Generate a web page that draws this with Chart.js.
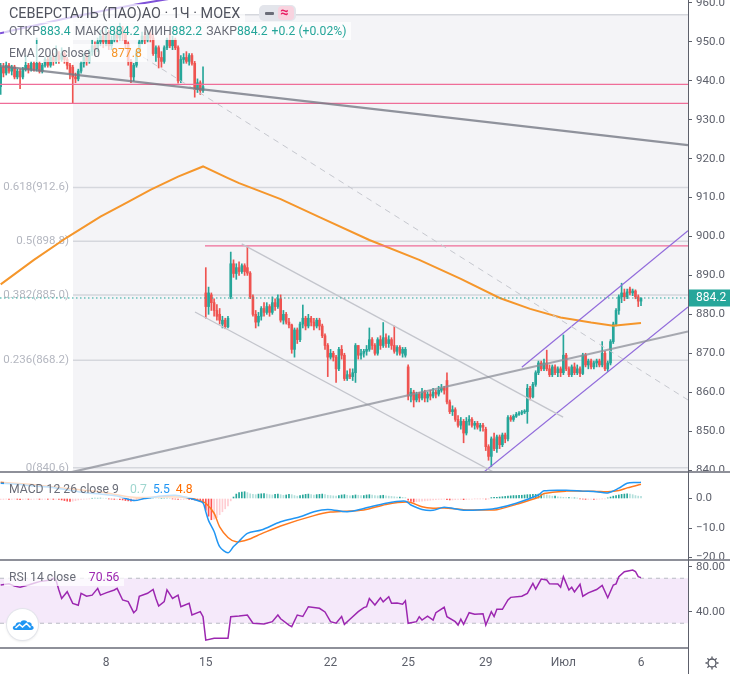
<!DOCTYPE html>
<html lang="ru">
<head>
<meta charset="utf-8">
<title>СЕВЕРСТАЛЬ (ПАО)АО · 1Ч · MOEX</title>
<script src="https://cdn.jsdelivr.net/npm/chart.js@4.4.1/dist/chart.umd.min.js"></script>
<style>
html,body{margin:0;padding:0;background:#fff;}
#wrap{position:relative;width:730px;height:674px;overflow:hidden;font-family:Roboto,"Noto Sans","DejaVu Sans",sans-serif;}
canvas{position:absolute;left:0;}
#cMain{top:0;} #cMacd{top:472px;} #cRsi{top:560px;}
.sep{position:absolute;background:#8e9099;}
.leg{position:absolute;white-space:nowrap;font-size:12.2px;color:#6a6d78;background:rgba(255,255,255,0.72);padding:0 5px;line-height:18px;}
.leg .v{color:#26a69a;}
.leg .g{margin-left:4px;}
</style>
</head>
<body>
<div id="wrap">
<canvas id="cMain" width="730" height="472"></canvas>
<canvas id="cMacd" width="730" height="88"></canvas>
<canvas id="cRsi" width="730" height="114"></canvas>

<div class="sep" style="left:0;top:471px;width:730px;height:2px"></div>
<div class="sep" style="left:0;top:559px;width:730px;height:2px"></div>
<div class="sep" style="left:0;top:647px;width:688px;height:2px"></div>
<div class="sep" style="left:687.5px;top:0;width:1.5px;height:674px;background:#5d606b"></div>

<div class="leg" style="left:4px;top:4px;font-size:14.4px;color:#50535e;line-height:19px;">СЕВЕРСТАЛЬ (ПАО)АО · 1Ч · MOEX</div>
<div style="position:absolute;left:259px;top:5px;width:37px;height:16px;border-radius:5px;background:#e3e5eb;">
  <div style="position:absolute;left:6px;top:6.5px;width:9px;height:3px;background:#6a6d78;border-radius:1px"></div>
  <div style="position:absolute;left:19px;top:1px;width:16px;height:14px;border-radius:4px;background:#f8d3df;"></div>
  <span style="position:absolute;left:21px;top:-2px;color:#e91e63;font-size:15px;font-weight:bold;line-height:18px">≈</span>
</div>
<div class="leg" style="left:4px;top:22px;">ОТКР<span class="v">883.4</span><span class="g">МАКС</span><span class="v">884.2</span><span class="g">МИН</span><span class="v">882.2</span><span class="g">ЗАКР</span><span class="v">884.2</span><span class="g v">+0.2 (+0.02%)</span></div>
<div class="leg" style="left:4px;top:44px;">EMA 200 close 0<span style="margin-left:11px;color:#f5962b">877.8</span></div>

<div class="leg" style="left:4px;top:480px;">MACD 12 26 close 9<span style="margin-left:11px;color:#9fd6cf">0.7</span><span style="margin-left:6px;color:#2196f3">5.5</span><span style="margin-left:6px;color:#ff6d00">4.8</span></div>
<div class="leg" style="left:4px;top:568px;">RSI 14 close<span style="margin-left:13px;color:#9c27b0">70.56</span></div>

<div style="position:absolute;left:7px;top:609px;width:31px;height:31px;border-radius:50%;background:#fff;box-shadow:0 0 0 1px #e3e5eb,0 1px 3px rgba(0,0,0,0.15);">
<svg width="31" height="31" viewBox="0 0 31 31"><path d="M8 21 C5 21 5 16.5 8.5 16.5 C8.5 13.5 11.5 12.5 13.5 13.5 C14.5 10.5 19.5 10.5 20.5 13.5 C23 12.5 25.5 14.5 24.5 16.8 C27.5 17 27.5 21 24 21 Z" fill="#2196f3"/><path d="M8.5 19 L12.5 15.5 L15.5 18 L19.5 14.5 L23.5 18.5" stroke="#fff" stroke-width="1.6" fill="none"/></svg>
</div>
<svg style="position:absolute;left:704px;top:655px" width="16" height="16" viewBox="0 0 16 16">
<g stroke="#50535e" stroke-width="1.3" fill="none"><circle cx="8" cy="8" r="4"/><path d="M8 1.5V3.5M8 12.5V14.5M1.5 8H3.5M12.5 8H14.5M3.4 3.4L4.8 4.8M11.2 11.2L12.6 12.6M3.4 12.6L4.8 11.2M11.2 4.8L12.6 3.4"/></g></svg>
</div>

<script>
// ---------------- data ----------------
const opens = [
938.5,943.5,942,944,942.5,943.5,941,942.5,941,943,
944,943,944.5,943,944.5,942.5,944,945.5,944,946,
945,946.5,945.5,947,945.5,944,943.5,941,940.5,942.5,
944.5,946,945,947.5,949,948,950,951.5,950,952,
949,950.5,952,951,953,952,949.5,945,941,944,
947.5,950,951.5,950.5,952,951,947,948.5,946,945,
948.5,950.5,949,950.5,948.5,940,945.5,946,945,946.5,
944.5,937.8,939.5,937.5,885.5,882,885,883,881,880,
877.5,878.5,876.8,884.5,893,890.5,892,891,892.5,892,
890.6,884.5,880,878,879.5,881.5,880.5,882,880.5,883,
882,884,878.5,880,878,877.3,871,876,873.5,877.5,
879,877,879,878,877,878.5,877,874.5,872,869,
870,869,866,871,869.5,863.5,864.5,864,865,872,
869.5,870,870.5,871,873.5,872,870,873.5,872,874,
872.5,873.5,872,870.5,871.5,870,869.5,866.5,859,860,
858,859.5,858.5,860,858.5,859.5,859,860,859.5,860.5,
861,863,857.5,855,855.5,853,851.5,852.5,849.5,852.5,
853,851.5,852,851,851.5,850.5,846,843.5,848,845.5,
848.5,846.5,849,848,853.5,853,853.8,854.3,854.6,854.9,
855,861,858.8,862,865,867.5,866,867.5,866,864.5,
866.5,865,866,865,869.5,866,864.5,866.5,865,866,
864.8,869.5,867,868,866.5,867.5,868,867,870,866,
867.5,873,877.5,881,884.5,885.5,884.5,886.5,885.5,886,
884.5,883.4];
const highs = [
944.5,944.5,945,944.5,944,944,943,943,943.5,946.5,
944.5,945,945,951,945,944.5,946,946,946.5,947,
949,947.5,948.5,947.5,946,944.5,944,942,943,945,
947,947,948,950.5,950,951,953,952.5,954,953,
951.5,953.5,954,955,954,952.5,950,945.5,944.5,948,
950.5,952.5,952.5,953,953,952,949,949,947.5,949,
951,952,951.5,951,949,946.5,947,947.5,947,947,
945,940.5,940,943.6,892,887,885.5,884,882.5,881.5,
879.5,879,879.5,896,894,893,893.5,893,893,897.4,
891,885,881,880.5,882,883,883,882.5,884.5,884,
885,885,881,880.5,879,877.5,876.5,876.5,878,882.4,
879.5,880,879.5,879,879,879,877.5,875,872.5,871,
870.5,869.5,871.5,872,870,865.5,866,866,872.5,872,
871,871,872,876.5,874,872.5,874,874.5,877.9,875,
874.5,874,877,872,872,871.5,871.5,867,861,860.5,
860,860,861,860.5,860,860.5,861,860.5,861.5,862,
861.5,865,858,856.5,856,854,853.5,853,853.5,854,
853.5,852.5,852.5,852,852,851,846.5,848.5,849.5,849,
849,849.5,849.5,854,854,854.2,854.8,855,855.3,855.5,
862,861.5,862.5,865.5,868,868,868.5,870.8,867,867,
867,866.5,866.5,874.7,870,866.5,867,867.5,867,866.5,
870,870,868.5,868.5,868,868.5,868.5,873,870.5,868,
873.5,878,881.5,885,888,886.5,886.5,887,886.5,886.3,
885,884.2];
const lows = [
936.5,941,941.5,942,941.5,940.5,940.5,938,940.5,942.5,
942,942.5,942.5,942.5,942,942,943.5,943.5,943.5,944,
944.5,944.5,945,944.5,943,940.5,934.2,939.5,940,942,
943.5,944,944.5,946.5,946.5,947.5,949,948.5,949,948,
948,950,950,950.5,950.5,948.5,944,939.5,940,943.5,
947,949.5,949.5,950,950,946.5,945,943.3,943.5,944.5,
948,948.5,948,948,939.4,939.5,944.5,944.5,944,944,
935.8,937,936.5,937,879,880,881,879.5,878.5,877.5,
876.5,876.3,876.5,884,889.5,889,890,890.5,890,890,
884,879.5,876.5,877,878.5,879.5,880,879.5,880,881,
881.5,878,877.5,877.5,876.5,870,869,872.5,873,876.5,
876,876.5,877,876,876.5,876,874,871,864,868.5,
868,862.5,865.5,868.5,863,863,863.5,863,862.5,868.5,
868.5,869,869.5,870.5,871,869.5,869.5,871,871.5,871.5,
871.5,871,870,869.5,869.5,869,869,858,857.5,856.2,
857.5,857.5,858,857.5,857.5,858,858.5,858.5,859,860,
859.5,857,854.5,854,852.5,851,850.5,847,849,851.5,
851,850.5,850.5,850,850,845,842.5,840.9,845,844.5,
845.5,846,847,847.5,852.5,852.5,853.5,854,854.2,854.5,
852,858,858.5,861.5,864.5,865.5,865.5,865.5,864,864,
864.5,864,864,864.5,865.5,864,864,864.5,864.5,864,
864.5,866.5,866,866,866,866.5,866.5,866.5,865.5,865.3,
867,872.5,877,880,883,883.5,884,885,884.8,884,
882,882.2];
const closes = [
943.5,942,944,942.5,943.5,941,942.5,941,943,944,
943,944.5,943,944.5,942.5,944,945.5,944,946,945,
946.5,945.5,947,945.5,944,942,941,940.5,942.5,944.5,
946,945,947.5,949,948,950,951.5,950,952,949,
950.5,952,951,953,952,949.5,945,941,944,947.5,
950,951.5,950.5,952,951,947,948.5,946,945,948.5,
950.5,949,950.5,948.5,940,945.5,946,945,946.5,944.5,
937.8,939.5,937.5,938.5,882,885.5,883,881,879.5,878.5,
878.5,876.8,879,893,890.5,892,891,892.5,891,890.6,
884.5,880,878,879.5,881.5,880.5,882,880.5,883,882,
884,878.5,880,878,877.3,871,876,873.5,877.5,879,
877,879,878,877,878.5,877,874.5,872,869,870,
869,866,871,869.5,863.5,864.5,864,865,872,869.5,
870,870.5,871,873.5,872,870,873.5,872,874,872.5,
873.5,872,870.5,871.5,870,871,871,859,860,858,
859.5,858.5,860,858.5,859.5,859,860,859.5,860.5,861,
860.5,857.5,855,855.5,853,851.5,852.5,849.5,852.5,853,
851.5,852,851,851.5,851,846,843.5,848,845.5,848.5,
846.5,849,848,853.5,853,853.8,854.3,854.6,854.9,855,
861,858.8,862,865,867.5,866,867.5,866,864.5,866.5,
865,866,865,869.5,866,864.5,866.5,865,866,864.8,
869.5,867,868,866.5,867.5,868,867,870,866,867.5,
873,877.5,881,884.5,885.5,884.5,885.8,885.5,886,884.5,
883.4,884.2];

const lastPrice = 884.2;
const emaBars   = [0,12,24,36,45,54,64,73,82,86,101,115,133,151,166,180,191,202,213,221,231];
const emaValues = [887.7,894.0,899.8,905.1,908.5,912.0,915.4,918.0,915.0,913.7,909.6,905.0,899.1,894.0,889.1,884.2,881.4,879.2,877.9,877.1,877.8];

// drawings: [bar1, price1, bar2, price2]
const trendLines = [
  [-0.24, 943.8, 247.95, 923.5],
  [19.6, 838.5, 247.95, 875.6],
  [86.95, 898.1, 202.9, 853.6],
  [70.1, 880.6, 179.05, 839.0],
  [51.35, 946.1, 247.95, 858.0],
  [174.0, 839.3, 247.95, 881.9],
  [188.0, 866.4, 247.95, 901.5]
];
const levelStartBars = [-0.24, -0.24, 73.7];
const levelPrices    = [939.1, 934.2, 897.6];
const arcBars   = [-0.24, 23.8, 47.85, 64.7];
const arcPrices = [952.2, 956.1, 959.5, 961.5];

const fibStartBar = 26.1;
const fibLevels = ['1','0.618','0.5','0.382','0.236','0'];
const fibPrices = [957.0, 912.6, 898.8, 885.0, 868.2, 840.6];

const histValues = [
-0.3,-0.3,-0.2,-0.3,-0.3,-0.2,-0.3,-0.4,-0.3,-0.2,
-0.3,-0.3,-0.2,-0.2,-0.3,-0.3,-0.2,-0.3,-0.2,-0.3,
-0.2,-0.3,-0.5,-0.7,-0.9,-1.0,-0.9,-0.7,-0.5,-0.3,
-0.2,-0.2,-0.1,0.1,0.2,0.2,0.3,0.2,0.1,-0.1,
-0.2,-0.3,-0.3,-0.4,-0.5,-0.7,-0.8,-0.9,-0.8,-0.6,
-0.4,-0.2,0.1,0.2,0.3,0.3,0.2,0.1,0.1,0.2,
0.2,0.1,-0.1,-0.2,-0.3,-0.3,-0.3,-0.2,-0.3,-0.4,
-0.5,-0.6,-0.8,-1.5,-4,-6,-7.2,-7,-6.5,-5.5,
-4.5,-3.5,-2.5,-0.8,0.5,1.5,2,2.2,2.3,2,
1.6,1.4,1.3,1.5,1.6,1.7,1.5,1.3,1.2,1.4,
1.5,1.3,1.1,1.2,1.4,1.3,1.0,0.8,1.0,1.2,
1.4,1.5,1.3,1.2,1.3,1.4,1.5,1.3,1.1,1.0,
0.9,0.8,1.0,1.2,1.3,1.1,0.9,1.0,1.2,1.1,
1.0,1.0,1.2,1.3,1.2,1.0,0.9,1.0,1.1,0.9,
0.8,0.7,0.6,0.5,0.5,0.4,0.3,-0.6,-1.0,-1.2,
-1.1,-1.0,-0.9,-0.8,-0.7,-0.6,-0.5,-0.4,-0.3,-0.3,
-0.2,-0.4,-0.5,-0.5,-0.4,-0.3,-0.3,-0.4,-0.3,-0.2,
-0.2,-0.1,-0.1,-0.1,-0.1,-0.2,-0.1,0.3,0.4,0.4,
0.5,0.6,0.7,0.8,0.9,1.0,1.0,1.1,1.1,1.2,
1.3,1.3,1.4,1.4,1.5,1.5,1.4,1.2,1.0,0.8,
0.8,0.6,0.5,0.4,0.3,0.3,0.2,0.2,0.1,-0.1,
-0.2,-0.3,-0.3,-0.2,-0.3,-0.3,-0.2,-0.1,-0.1,0.2,
0.5,0.8,1.0,1.2,1.4,1.5,1.6,1.5,1.3,1.0,
0.8,0.7];
const macdBars   = [0,6,12,18,24,30,36,42,48,52,58,63,67,71,73,74,75,77,79,82,84,86,89,94,101,108,113,118,125,131,139,146,148,152,156,160,167,175,179,186,194,196,204,210,215,219,223,226,230,231];
const macdValues = [5.15,4.8,4.2,3.8,2.9,2.0,1.5,0.85,-0.7,0,0.85,1.1,0.4,-0.7,-1.5,-4.5,-7.5,-11.2,-16.3,-18.4,-16.3,-14.5,-11.8,-10.7,-7.9,-6.2,-4.5,-3.7,-4.5,-3.4,-1.6,-0.9,-2.2,-3.7,-4,-3,-4,-3.7,-3.3,-1.6,1.2,2.6,2.8,2.5,2.3,1.9,3.5,5.2,5.4,5.5];
const signalBars   = [0,12,24,36,48,54,60,67,72,74,77,79,82,85,89,94,101,113,119,131,139,147,152,156,160,167,175,179,186,194,196,204,210,215,219,223,226,230,231];
const signalValues = [5.5,4.7,3.4,2.2,0.4,0.4,0.6,0.3,-0.8,-1.6,-5,-9.6,-13.2,-14.7,-14,-12,-9.3,-5.8,-4.6,-3.9,-2,-1.2,-2.8,-3.3,-3.2,-3.8,-3.9,-3.8,-2,0.4,1.7,2.5,2.5,2.4,2.3,2.7,3.6,4.6,4.8];

const rsiBars = [0,3,5,7,10,12,14,18,19,20,21,22,24,26,28,29,31,33,35,36,38,41,42,44,46,48,49,50,53,55,56,57,59,60,62,64,65,68,69,72,73,74,77,82,83,86,89,91,95,98,100,101,104,105,107,109,111,115,117,119,121,123,124,126,129,131,132,133,135,137,138,140,141,143,145,146,147,150,151,152,154,156,157,160,161,164,165,166,167,169,171,174,175,177,178,179,181,183,184,188,190,192,193,195,197,198,201,202,203,205,206,207,209,210,212,215,217,219,221,222,223,225,228,229,230,231];
const rsiValues = [64,65,63,62,64,65.5,67,68.4,70,68,59.6,52,58,47.7,46,56.6,54,55,61,55,57,59.6,61,50.7,49.2,39.4,41.8,54,56.6,60,52,45.3,49.2,59.6,52,55,44.7,47.7,37.3,40.3,35.8,15,16.6,16.6,35.8,36.4,37.3,30,29.3,31.4,37.3,34,28.4,27,37.3,36,44.7,43.3,40,31.4,30,36,29,33.6,40.3,43.9,44.7,52,46.2,52.7,49,53.6,47.7,48,47,50,30,31.4,35.8,32.9,36.4,32.9,39.4,44.2,35.8,31.4,28.4,33.6,29,39.4,38,38.5,28.4,40.3,36,42.4,42.4,50.7,53,54,56.6,65.5,60.4,69.3,68.4,65,64.9,62,71.4,59.6,62,57.8,64.6,54,57,60,63.7,52.7,64,65,71.4,75.8,77.3,76,71.4,70.56];
const rsiUpper = 70, rsiLower = 30;

const priceTicks = [840,850,860,870,880,890,900,910,920,930,940,950,960];
const macdTicks = [0,-10,-20];
const rsiTicks = [80,40];
const dayTicks  = [38,74,119,147,175,203,231];
const dayLabels = ['8','15','22','25','29','Июл','6'];

// ---------------- view ----------------
const X_MIN = -0.2417, X_MAX = 247.954;
const UP = '#26a69a', DOWN = '#ef5350';
const AXIS_TEXT = '#5d606b';
Chart.defaults.font.family = 'Roboto, "Noto Sans", "DejaVu Sans", sans-serif';

function xScale(){
  return {type:'linear', min:X_MIN, max:X_MAX, offset:false, display:false};
}
function yScale(min, max, ticks, fmt){
  return {
    position:'right', min, max, beginAtZero:false,
    afterBuildTicks: s => { s.ticks = ticks.map(v => ({value:v})); },
    afterFit: s => { s.width = 42; s.paddingTop = 0; s.paddingBottom = 0; },
    ticks:{callback: fmt, color:AXIS_TEXT, font:{size:11.5}, padding:4, autoSkip:false},
    grid:{display:true, drawOnChartArea:false, drawTicks:true, tickLength:4, tickColor:AXIS_TEXT, tickWidth:1},
    border:{display:false}
  };
}
const baseOpts = {responsive:false, animation:false, events:[], layout:{padding:0},
  plugins:{legend:{display:false}, tooltip:{enabled:false}}};

const candleColor = ctx => {
  const i = ctx.dataIndex;
  if (i === undefined) return UP;
  return closes[i] >= opens[i] ? UP : DOWN;
};
const pts = (xs, ys) => xs.map((x, k) => ({x, y: ys[k]}));
const lineDs = (data, color, width, dash, order, tension) => ({
  type:'line', data, borderColor:color, borderWidth:width, borderDash:dash || [],
  pointRadius:0, fill:false, tension:tension || 0, order
});

const trendStyles = [
  ['rgba(118,121,132,0.8)', 2.2, []],
  ['rgba(140,143,152,0.75)', 2.2, []],
  ['#c3c5cc', 1.3, []],
  ['#c3c5cc', 1.3, []],
  ['#c6c8cf', 1, [6,5]],
  ['#916bdb', 1.2, []],
  ['#916bdb', 1.2, []]
];

const mainDatasets = [
  {type:'bar', data: closes.map((c,i) => ({x:i, y:[lows[i], highs[i]]})),
   backgroundColor: candleColor, barThickness:1, grouped:false, order:20},
  {type:'bar', data: closes.map((c,i) => ({x:i, y:[opens[i], c]})),
   backgroundColor: candleColor, barThickness:2, grouped:false, minBarLength:1, order:19},
  lineDs(pts(emaBars, emaValues), '#f5962b', 2, [], 6),
  lineDs(pts(arcBars, arcPrices), '#7f52d9', 2, [], 4, 0.3),
  lineDs(pts([X_MIN, X_MAX], [lastPrice, lastPrice]), UP, 1, [1.5,2.5], 2)
];
trendLines.forEach((t, k) => {
  const st = trendStyles[k];
  mainDatasets.push(lineDs(pts([t[0], t[2]], [t[1], t[3]]), st[0], st[1], st[2], 5));
});
levelPrices.forEach((p, k) => {
  mainDatasets.push(lineDs(pts([levelStartBars[k], X_MAX], [p, p]), '#ef6d98', 1.3, [], 5));
});

const fibPlugin = {
  id:'fib',
  beforeDatasetsDraw(chart){
    const {ctx, chartArea:a, scales:{x, y}} = chart;
    const x0 = x.getPixelForValue(fibStartBar);
    const yTop = y.getPixelForValue(fibPrices[0]);
    ctx.save();
    ctx.fillStyle = '#f4f4f7';
    ctx.fillRect(x0, yTop, a.right - x0, a.bottom - yTop);
    ctx.strokeStyle = '#d5d7dd';
    ctx.lineWidth = 1.5;
    ctx.font = '11.5px Roboto, "Noto Sans", sans-serif';
    ctx.fillStyle = '#b4b7c0';
    ctx.textAlign = 'right';
    ctx.textBaseline = 'middle';
    fibPrices.forEach((p, k) => {
      const yy = y.getPixelForValue(p);
      ctx.beginPath(); ctx.moveTo(x0, yy); ctx.lineTo(a.right, yy); ctx.stroke();
      if (k > 0) ctx.fillText(fibLevels[k] + '(' + p.toFixed(1) + ')', x0 - 4, yy);
    });
    ctx.restore();
  }
};
const lastPricePlugin = {
  id:'lastPrice',
  afterDraw(chart){
    const {ctx, chartArea:a, scales:{y}} = chart;
    const yy = y.getPixelForValue(lastPrice);
    ctx.save();
    ctx.fillStyle = UP;
    ctx.fillRect(a.right + 1, yy - 8.5, 42, 17);
    ctx.fillStyle = '#fff';
    ctx.font = '12px Roboto, "Noto Sans", sans-serif';
    ctx.textAlign = 'left';
    ctx.textBaseline = 'middle';
    ctx.fillText(lastPrice.toFixed(1), a.right + 8, yy + 0.5);
    ctx.restore();
  }
};

new Chart(document.getElementById('cMain'), {
  type:'bar',
  data:{datasets: mainDatasets},
  options:{...baseOpts, scales:{x:xScale(), y:yScale(839.49, 960.77, priceTicks, v => v.toFixed(1))}},
  plugins:[fibPlugin, lastPricePlugin]
});

const histColor = ctx => {
  const i = ctx.dataIndex;
  if (i === undefined) return UP;
  const v = histValues[i], p = i > 0 ? histValues[i-1] : v;
  if (v >= 0) return v >= p ? '#26a69a' : '#b2dfdb';
  return v < p ? '#ff5252' : '#ffcdd2';
};
const macdFmt = v => v === 0 ? '0.0' : (v < 0 ? '\u2212' : '') + Math.abs(v).toFixed(1);

new Chart(document.getElementById('cMacd'), {
  type:'bar',
  data:{datasets:[
    {type:'bar', data: histValues.map((v,i) => ({x:i, y:v})), backgroundColor: histColor, barThickness:1, grouped:false, order:10},
    lineDs(pts(signalBars, signalValues), '#ff7a1f', 1.5, [], 2, 0.3),
    lineDs(pts(macdBars, macdValues), '#2196f3', 1.5, [], 1, 0.3)
  ]},
  options:{...baseOpts, scales:{x:xScale(), y:yScale(-20.847, 8.983, macdTicks, macdFmt)}}
});

const rsiBandPlugin = {
  id:'rsiBand',
  beforeDatasetsDraw(chart){
    const {ctx, chartArea:a, scales:{y}} = chart;
    const y1 = y.getPixelForValue(rsiUpper), y2 = y.getPixelForValue(rsiLower);
    ctx.save();
    ctx.fillStyle = 'rgba(171,71,214,0.12)';
    ctx.fillRect(a.left, y1, a.right - a.left, y2 - y1);
    ctx.strokeStyle = '#b9bbc3';
    ctx.lineWidth = 1;
    ctx.setLineDash([4,4]);
    [y1, y2].forEach(yy => { ctx.beginPath(); ctx.moveTo(a.left, yy); ctx.lineTo(a.right, yy); ctx.stroke(); });
    ctx.restore();
  }
};

new Chart(document.getElementById('cRsi'), {
  type:'line',
  data:{datasets:[ lineDs(pts(rsiBars, rsiValues), '#9c27b0', 1.5, [], 1) ]},
  options:{...baseOpts, scales:{
    x:{type:'linear', min:X_MIN, max:X_MAX, offset:false, display:true,
       afterBuildTicks: s => { s.ticks = dayTicks.map(v => ({value:v})); },
       afterFit: s => { s.height = 26; s.paddingLeft = 0; s.paddingRight = 0; },
       ticks:{autoSkip:false, maxRotation:0, minRotation:0, padding:8, color:AXIS_TEXT, font:{size:12},
              callback: v => { const k = dayTicks.indexOf(v); return k >= 0 ? dayLabels[k] : ''; }},
       grid:{display:false, drawTicks:false}, border:{display:false}},
    y: yScale(8.0, 86.22, rsiTicks, v => v.toFixed(2))
  }},
  plugins:[rsiBandPlugin]
});
</script>
</body>
</html>
